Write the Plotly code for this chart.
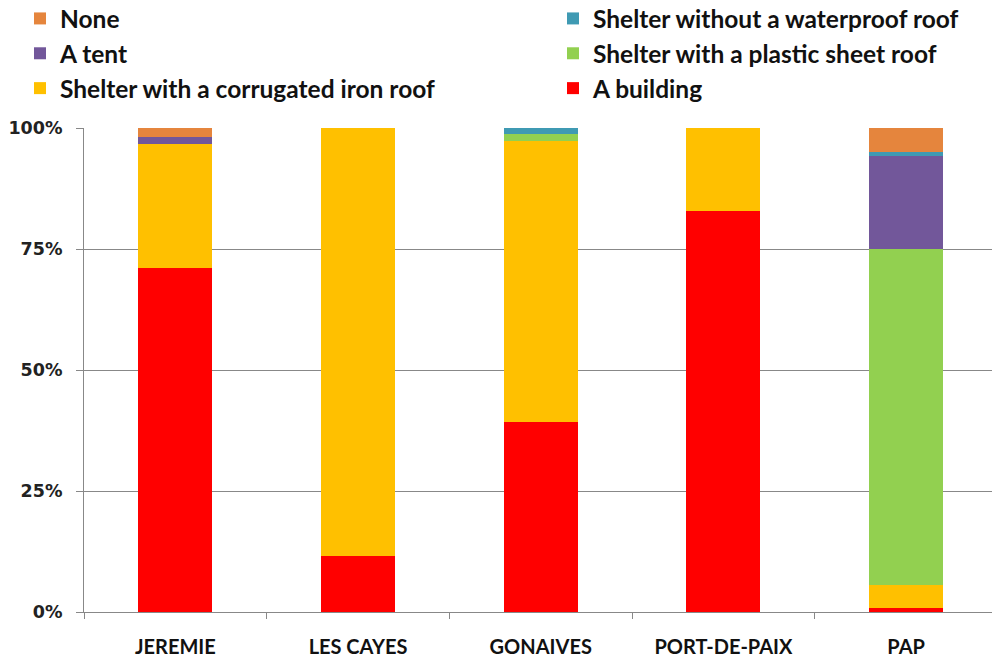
import plotly.graph_objects as go

categories = ["JEREMIE", "LES CAYES", "GONAIVES", "PORT-DE-PAIX", "PAP"]

building = [71.0, 11.6, 39.3, 82.9, 0.8]
corrugated = [25.7, 88.4, 58.1, 17.1, 4.7]
plastic = [0.0, 0.0, 1.4, 0.0, 69.6]
tent = [1.5, 0.0, 0.0, 0.0, 19.2]
no_waterproof = [0.0, 0.0, 1.2, 0.0, 0.7]
none_ = [1.8, 0.0, 0.0, 0.0, 5.0]

y_tickvals = [0, 25, 50, 75, 100]
y_ticktext = ["0%", "25%", "50%", "75%", "100%"]

series = [
    ("A building", building, "#FF0000", "legend2", 3),
    ("Shelter with a corrugated iron roof", corrugated, "#FFC000", "legend", 3),
    ("Shelter with a plastic sheet roof", plastic, "#92D050", "legend2", 2),
    ("A tent", tent, "#72579A", "legend", 2),
    ("Shelter without a waterproof roof", no_waterproof, "#3F9AB3", "legend2", 1),
    ("None", none_, "#E5853D", "legend", 1),
]

fig = go.Figure()
for name, vals, color, leg, rank in series:
    fig.add_trace(go.Bar(
        x=categories, y=vals, name=name, marker=dict(color=color, line=dict(width=0)),
        legend=leg, legendrank=rank, legendgroup=name,
    ))

W, H = 992, 658
L, R, T, B = 84, 0, 128, 46
PW, PH = W - L - R, H - T - B


def px_x(p):
    return (p - L) / PW


def px_y(p):
    return (H - B - p) / PH


legend_font = dict(family="Lato", size=24.5, color="#111111", weight="bold")
common_legend = dict(xanchor="left", yanchor="top", orientation="v", traceorder="grouped",
                     tracegroupgap=0, font=legend_font, bgcolor="rgba(0,0,0,0)",
                     itemclick=False, itemdoubleclick=False)
fig.update_layout(
    width=W, height=H,
    barmode="stack", bargap=0.595,
    paper_bgcolor="white", plot_bgcolor="white",
    margin=dict(l=L, r=R, t=T, b=B, autoexpand=False),
    legend=dict(x=px_x(20), y=px_y(-4), **common_legend),
    legend2=dict(x=px_x(553), y=px_y(-4), **common_legend),
    showlegend=True,
)
fig.update_xaxes(
    range=[-0.5, 4.47], showline=True, linecolor="#888888", linewidth=1,
    ticks="outside", tickson="boundaries", ticklen=6, tickcolor="#888888",
    tickfont=dict(family="Lato", size=20, color="#111111", weight="bold"),
    ticklabelstandoff=17, showgrid=False,
)
fig.update_yaxes(
    range=[0, 100], tickvals=y_tickvals, ticktext=y_ticktext,
    showline=True, linecolor="#888888", linewidth=1,
    ticks="outside", ticklen=7, tickcolor="#888888",
    showgrid=True, gridcolor="#888888", gridwidth=1, zeroline=False,
    tickfont=dict(family="DejaVu Sans", size=17.5, color="#222222", weight="bold"),
    ticklabelstandoff=10,
)
fig.write_html("out.html", config={"displayModeBar": False},
               post_script="document.body.style.margin='0';")
